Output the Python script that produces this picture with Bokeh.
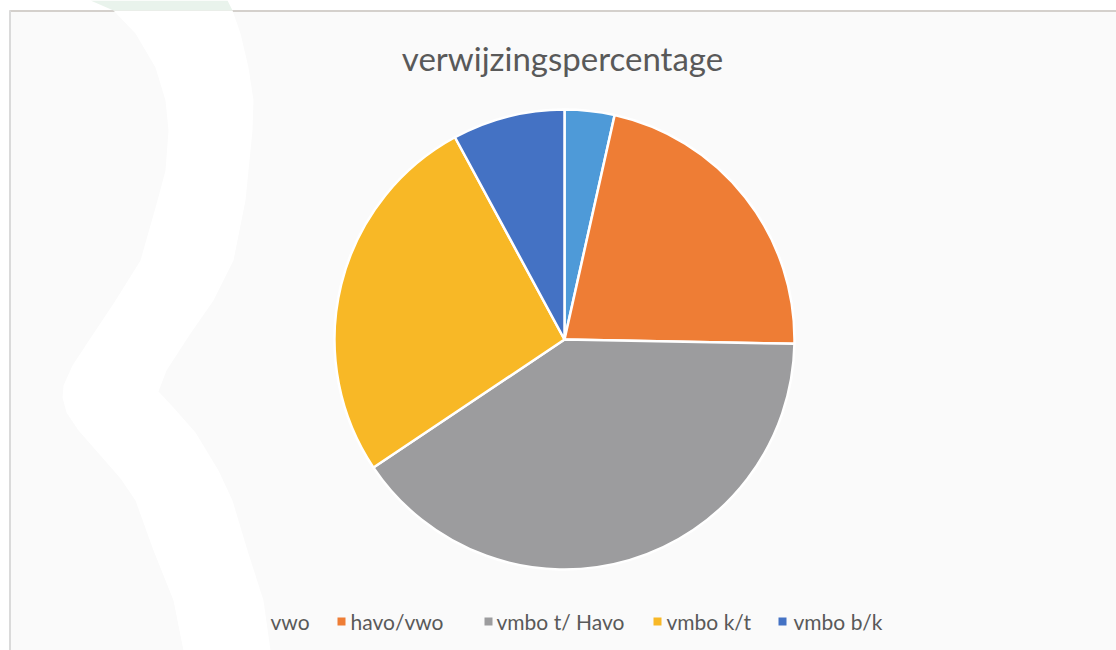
from bokeh.plotting import figure
from bokeh.models import Range1d, ColumnDataSource
from bokeh.core.properties import value
from bokeh.embed import file_html
from bokeh.resources import INLINE
import math

# ---- data ----
categories = ["vwo", "havo/vwo", "vmbo t/ Havo", "vmbo k/t", "vmbo b/k"]
shares = [3.5, 21.8, 40.3, 26.5, 7.9]
colors = ["#4e9ad8", "#ee7d35", "#9c9c9e", "#f8b826", "#4472c4"]
title_text = "verwijzingspercentage"

# ---- layout ----
W, H = 1116, 650
def Y(py):
    return H - py

p = figure(width=W, height=H, output_backend="svg", toolbar_location=None,
           x_range=Range1d(0, W), y_range=Range1d(0, H), min_border=0)
p.axis.visible = False
p.grid.visible = False
p.outline_line_color = None
p.background_fill_color = "white"
p.border_fill_color = "white"

# chart area box
p.quad(left=[9], right=[W], top=[Y(10)], bottom=[Y(H)], fill_color="#fafafa", line_color=None)
p.line(x=[9, W], y=[Y(10.5), Y(10.5)], line_color="#d4d0cc", line_width=2)
p.line(x=[9.5, 9.5], y=[Y(10), Y(H)], line_color="#dadada", line_width=2)

# pie
total = sum(shares)
starts, ends = [], []
acc = 0.0
for s in shares:
    starts.append(math.pi / 2 - 2 * math.pi * acc / total)
    acc += s
    ends.append(math.pi / 2 - 2 * math.pi * acc / total)
src = ColumnDataSource(dict(cat=categories, val=shares, color=colors, start=starts, end=ends))
p.wedge(x=564, y=Y(339), radius=230, start_angle="start", end_angle="end",
        direction="clock", fill_color="color", line_color="white", line_width=2.5, source=src)

# title
p.text(x=[562], y=[Y(57)], text=[title_text], text_align="center", text_baseline="middle",
       text_font=value("Lato"), text_font_size="33px", text_color="#595959")

# legend
leg_marker_x = [258, 341, 488, 657, 782]
leg_text_x = [270, 350, 496, 666, 793]
leg_y = Y(621)
p.scatter(x=leg_marker_x, y=[leg_y] * len(categories), marker="square", size=8,
          fill_color=colors, line_color=None)

# decorative white band (page background element)
left_edge = [(113, 10), (135, 33), (155, 67), (165, 100), (168, 130), (165, 170), (157, 200),
             (140, 260), (115, 300), (95, 330), (72, 365), (63, 385), (62, 397), (66, 412),
             (78, 430), (100, 455), (120, 478), (135, 500), (153, 550), (173, 600), (183, 650)]
right_edge = [(270, 650), (263, 600), (247, 550), (232, 500), (218, 470), (195, 432),
              (172, 406), (158, 391), (166, 370), (190, 333), (213, 300), (233, 260),
              (245, 200), (252, 130), (253, 100), (248, 67), (240, 33), (232, 10)]
pts = left_edge + right_edge
p.patch(x=[a for a, b in pts], y=[Y(b) for a, b in pts], fill_color="white", line_color=None)
# green shape above the box
g = [(90, 0), (227, 0), (232, 10), (113, 10)]
p.patch(x=[a for a, b in g], y=[Y(b) for a, b in g], fill_color="#e9f3ec", line_color=None)

p.text(x=leg_text_x, y=[leg_y] * len(categories), text=categories,
       text_align="left", text_baseline="middle", text_font=value("Lato"),
       text_font_size="21px", text_color="#595959")

open("out.html", "w").write(file_html(p, INLINE))
